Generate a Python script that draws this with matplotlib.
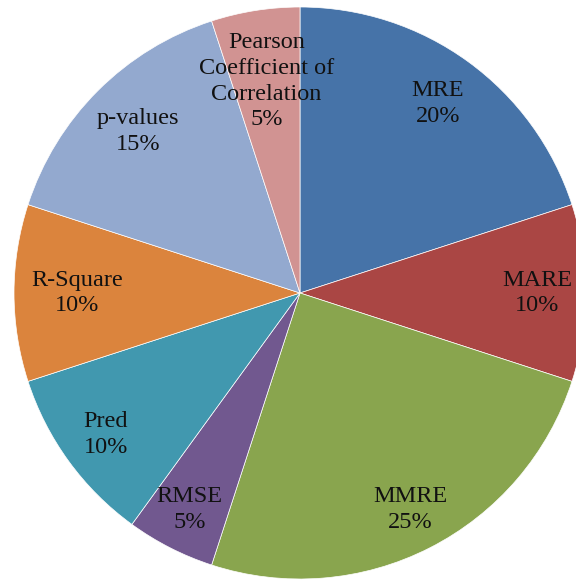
import matplotlib
matplotlib.use("Agg")
import matplotlib.pyplot as plt
import numpy as np

categories = ["MRE", "MARE", "MMRE", "RMSE", "Pred", "R-Square", "p-values",
              "Pearson\nCoefficient of\nCorrelation"]
shares = [20, 10, 25, 5, 10, 10, 15, 5]
colors = ["#4673A8", "#AA4644", "#89A54E", "#71588F", "#4198AF",
          "#DB843D", "#93A9CF", "#D19392"]

# radial position of each label, as a fraction of the pie radius
label_radius = [0.82, 0.83, 0.85, 0.85, 0.84, 0.78, 0.80, 0.75]

W, H = 576, 581
fig = plt.figure(figsize=(W / 100, H / 100), dpi=100)
ax = fig.add_axes([0, 0, 1, 1])

R = 286
wedges, _ = ax.pie(shares, colors=colors, startangle=90, counterclock=False,
                   radius=R, wedgeprops=dict(edgecolor="white", linewidth=0.5))

for w, name, val, f in zip(wedges, categories, shares, label_radius):
    ang = np.deg2rad((w.theta1 + w.theta2) / 2)
    x = f * R * np.cos(ang)
    y = f * R * np.sin(ang)
    ax.text(x, y, f"{name}\n{val}%", ha="center", va="center",
            family="Liberation Serif", fontsize=17.5, color="#111111",
            linespacing=1.3)

ax.set_xlim(-300, W - 300)
ax.set_ylim(-(H - 293), 293)
ax.set_aspect("equal")
ax.axis("off")

fig.savefig("out.png", dpi=100)
